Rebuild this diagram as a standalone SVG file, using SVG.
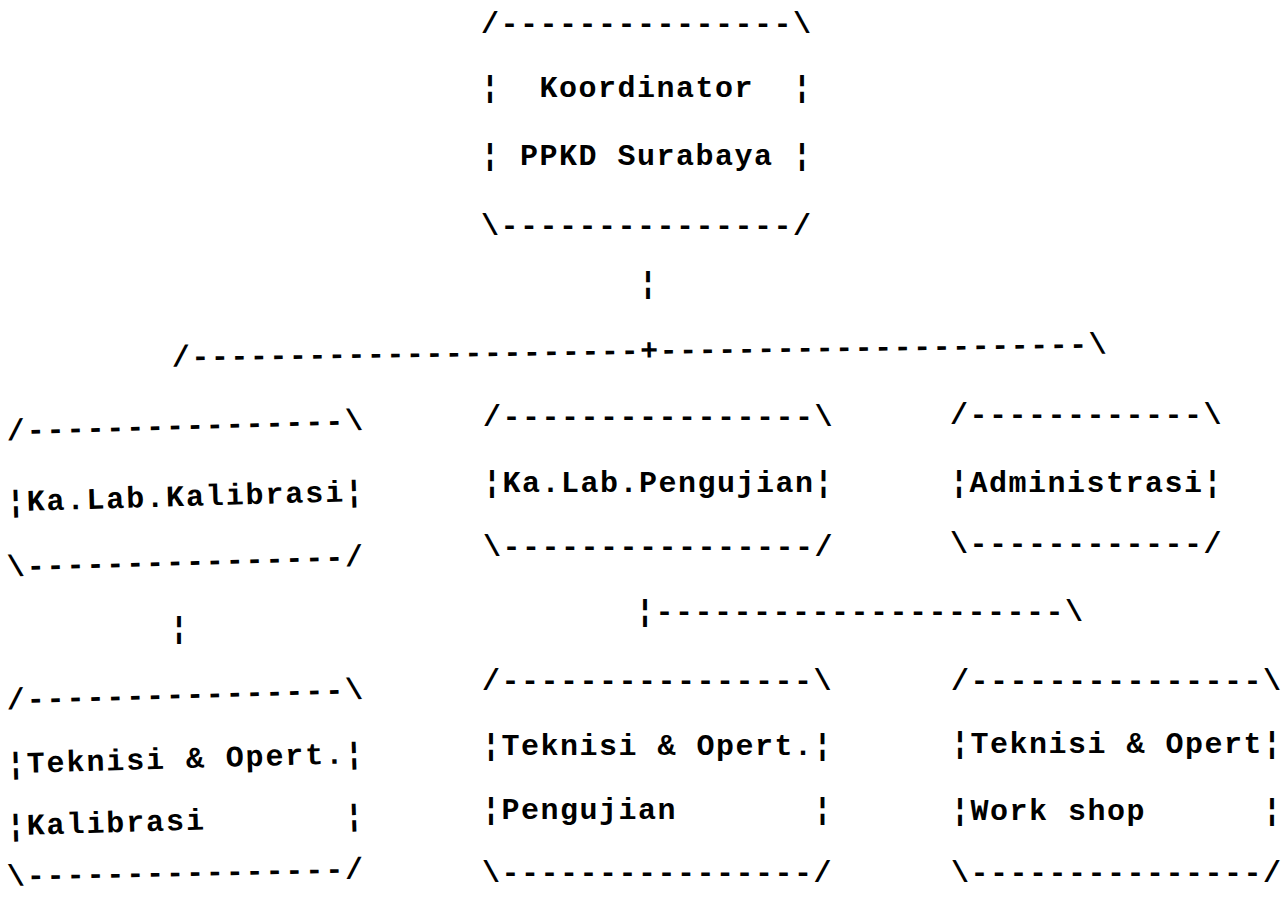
<svg xmlns="http://www.w3.org/2000/svg" width="1283" height="898" viewBox="0 0 1283 898">
<style>
  text { font-family: "Liberation Mono", "Courier New", monospace; font-size: 30px; font-weight: bold; fill: #000; white-space: pre; letter-spacing: 1.5px; }
  .lc text, text.lc { letter-spacing: 1.9px; }
</style>
<rect width="1283" height="898" fill="#fff"/>
<g id="connectors">
  <text x="639" y="293">¦</text>
  <text x="172" y="360" transform="rotate(-0.8 640 356)">/-----------------------+----------------------\</text>
  <text class="lc" x="170" y="638">¦</text>
  <text x="636" y="621">¦---------------------\</text>
</g>
<g id="node-koordinator">
  <text x="481" y="33">/---------------\</text>
  <text x="481" y="97" xml:space="preserve">¦  Koordinator  ¦</text>
  <text x="481" y="165" xml:space="preserve">¦ PPKD Surabaya ¦</text>
  <text x="481" y="235">\---------------/</text>
</g>
<g id="node-kalab-kalibrasi" class="lc">
  <text x="7" y="435" transform="rotate(-1.7 187 435)">/----------------\</text>
  <text x="7" y="506" transform="rotate(-1.7 187 506)">¦Ka.Lab.Kalibrasi¦</text>
  <text x="7" y="571" transform="rotate(-1.7 187 571)">\----------------/</text>
</g>
<g id="node-kalab-pengujian">
  <text x="483" y="426">/----------------\</text>
  <text x="483" y="492">¦Ka.Lab.Pengujian¦</text>
  <text x="483" y="556">\----------------/</text>
</g>
<g id="node-administrasi">
  <text x="950" y="424">/------------\</text>
  <text x="950" y="492">¦Administrasi¦</text>
  <text x="950" y="553">\------------/</text>
</g>
<g id="node-teknisi-kalibrasi" class="lc">
  <text x="7" y="704" transform="rotate(-1.7 187 704)">/----------------\</text>
  <text x="7" y="768" transform="rotate(-1.7 187 768)" xml:space="preserve">¦Teknisi &amp; Opert.¦</text>
  <text x="7" y="830" transform="rotate(-1.7 187 830)" xml:space="preserve">¦Kalibrasi       ¦</text>
  <text x="7" y="882" transform="rotate(-1.2 187 882)">\----------------/</text>
</g>
<g id="node-teknisi-pengujian">
  <text x="482" y="690">/----------------\</text>
  <text x="482" y="755" xml:space="preserve">¦Teknisi &amp; Opert.¦</text>
  <text x="482" y="819" xml:space="preserve">¦Pengujian       ¦</text>
  <text x="482" y="882">\----------------/</text>
</g>
<g id="node-teknisi-workshop">
  <text x="951" y="690">/---------------\</text>
  <text x="951" y="753" xml:space="preserve">¦Teknisi &amp; Opert¦</text>
  <text x="951" y="820" xml:space="preserve">¦Work shop      ¦</text>
  <text x="951" y="882">\---------------/</text>
</g>
</svg>
